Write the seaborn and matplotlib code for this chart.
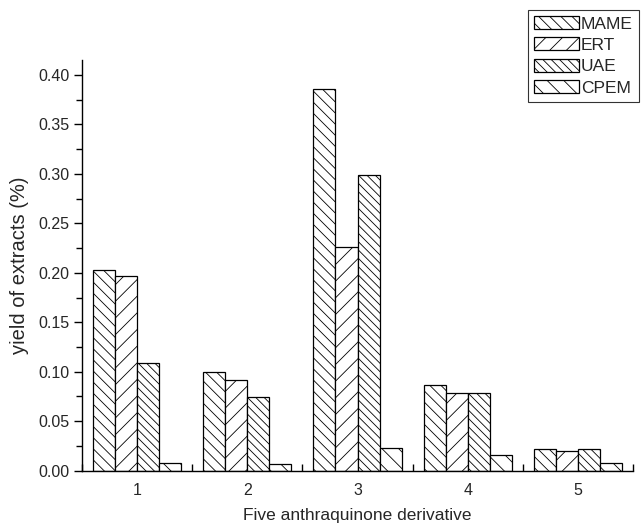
import numpy as np
import pandas as pd
import matplotlib
matplotlib.use("Agg")
import matplotlib.pyplot as plt
from matplotlib.ticker import MultipleLocator, FormatStrFormatter
import seaborn as sns

derivatives = ["1", "2", "3", "4", "5"]
methods = ["MAME", "ERT", "UAE", "CPEM"]
mame = [0.203, 0.100, 0.386, 0.087, 0.022]
ert = [0.197, 0.092, 0.226, 0.079, 0.020]
uae = [0.109, 0.074, 0.299, 0.079, 0.022]
cpem = [0.0075, 0.0065, 0.023, 0.0155, 0.008]
y_ticks = [0.00, 0.05, 0.10, 0.15, 0.20, 0.25, 0.30, 0.35, 0.40]

series = {"MAME": mame, "ERT": ert, "UAE": uae, "CPEM": cpem}
rows = []
for m in methods:
    for d, v in zip(derivatives, series[m]):
        rows.append({"derivative": d, "method": m, "yield": v})
df = pd.DataFrame(rows)

sns.set_style("ticks")
plt.rcParams["font.family"] = ["Liberation Sans", "DejaVu Sans"]
plt.rcParams["hatch.linewidth"] = 0.6
plt.rcParams["hatch.color"] = "black"

fig = plt.figure(figsize=(6.41, 5.26), dpi=100)
ax = fig.add_axes([82 / 641, 1 - 470.7 / 526, (633 - 82) / 641, (470.7 - 60) / 526])

sns.barplot(data=df, x="derivative", y="yield", hue="method", order=derivatives,
            hue_order=methods, palette=["white"] * 4, saturation=1,
            edgecolor="black", linewidth=0.9, width=0.8, legend=False, ax=ax,
            errorbar=None)

hatches = ["\\\\\\", "//", "\\\\\\\\", "\\\\"]
for cont, h in zip(ax.containers, hatches):
    for bar in cont:
        bar.set_hatch(h)
        bar.set_edgecolor("black")

ax.set_xlim(-0.5, 4.5)
ax.set_ylim(0, 0.415)
ax.set_yticks(y_ticks)
ax.yaxis.set_minor_locator(MultipleLocator(0.025))
ax.yaxis.set_major_formatter(FormatStrFormatter("%.2f"))
ax.set_xticks(range(len(derivatives)))
ax.set_xticklabels(derivatives)
ax.set_xticks(np.arange(-0.5, 5.0, 1.0), minor=True)

ax.tick_params(axis="x", which="major", length=0, labelsize=11.5, pad=9)
ax.tick_params(axis="x", which="minor", direction="in", length=5, width=1, color="black")
ax.tick_params(axis="y", which="major", direction="out", length=6, width=1,
               labelsize=11.5, color="black", pad=3)
ax.tick_params(axis="y", which="minor", direction="out", length=4, width=1, color="black")

for s in ["top", "right"]:
    ax.spines[s].set_visible(False)
for s in ["left", "bottom"]:
    ax.spines[s].set_linewidth(1.0)
    ax.spines[s].set_color("black")

ax.set_xlabel("Five anthraquinone derivative", fontsize=12.5, labelpad=7)
ax.set_ylabel("yield of extracts (%)", fontsize=14.5, labelpad=7)

leg = fig.legend(ax.containers, methods, loc="upper left",
                 bbox_to_anchor=(528 / 641, 1 - 10 / 526), bbox_transform=fig.transFigure,
                 fontsize=12.5, handlelength=2.6, handleheight=0.78, handletextpad=0.1,
                 labelspacing=0.33, borderpad=0.35, fancybox=False, frameon=True,
                 borderaxespad=0)
leg.get_frame().set_edgecolor("black")
leg.get_frame().set_linewidth(0.8)

fig.savefig("out.png", dpi=100)
